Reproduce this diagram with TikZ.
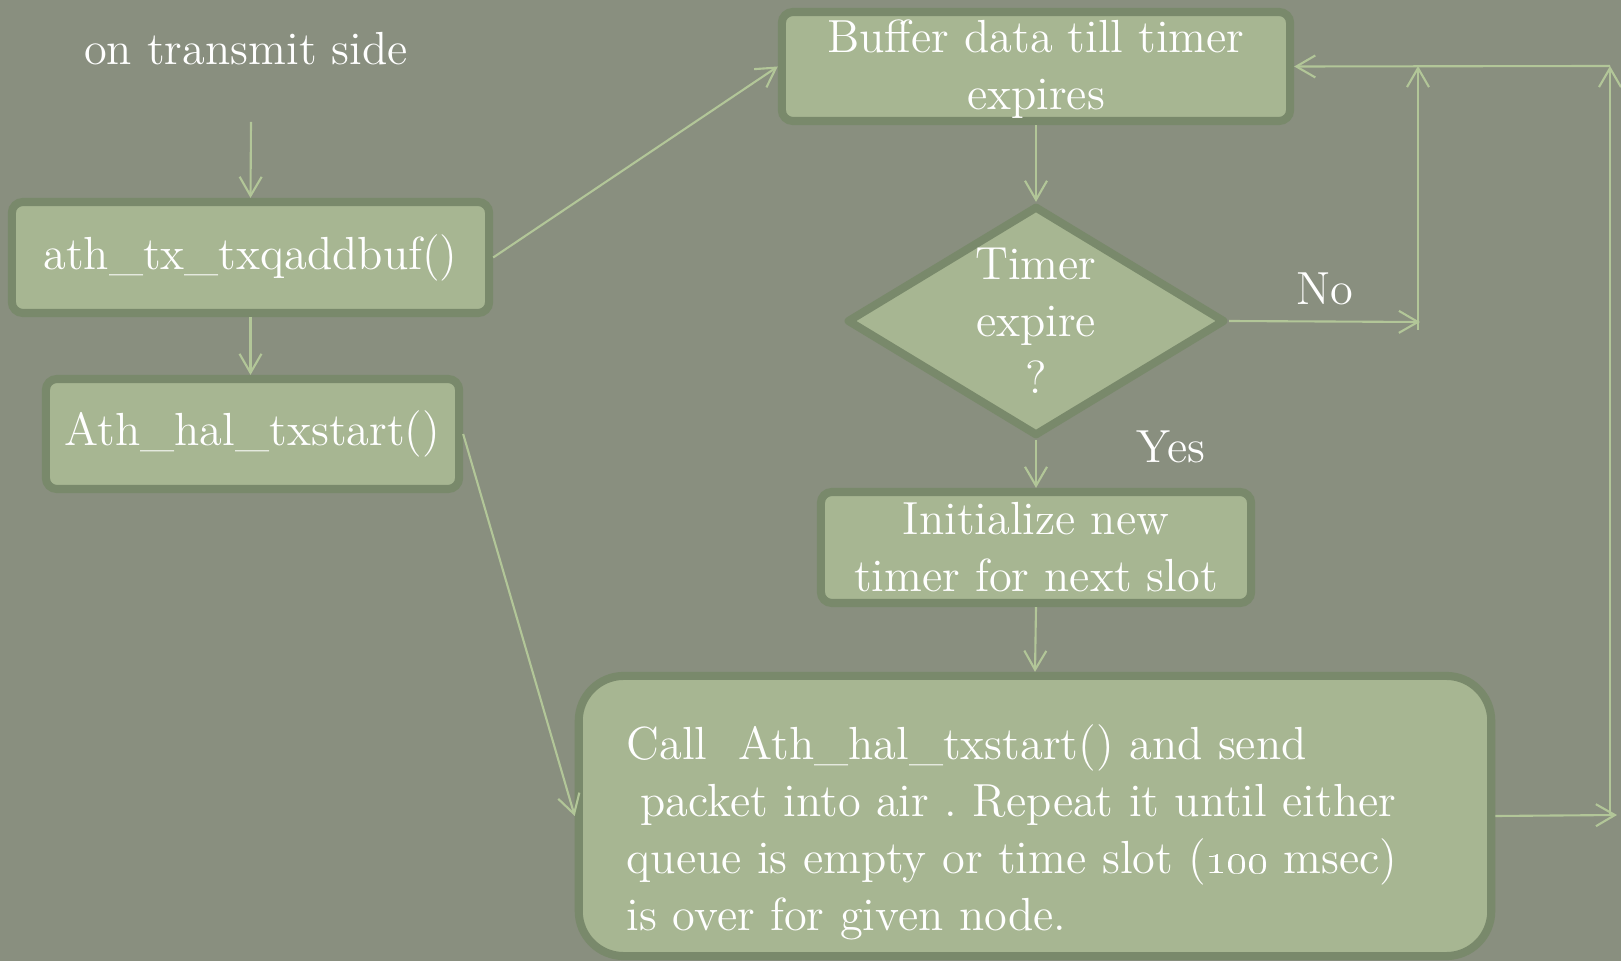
\documentclass[tikz,border=0pt]{standalone}
\usepackage{xcolor}
\usetikzlibrary{arrows.meta,shapes.geometric}
\definecolor{slate}{RGB}{137,143,127}
\definecolor{boxfill}{RGB}{167,182,146}
\definecolor{boxline}{RGB}{121,137,107}
\definecolor{flow}{RGB}{178,198,152}
\newcommand{\slidefont}{\fontsize{13.2}{16.2}\selectfont\frenchspacing}

\begin{document}
\begin{tikzpicture}[x=0.01cm, y=-0.01cm,
  stepbox/.style={draw=boxline, fill=boxfill, line width=2.3pt, rounded corners=0.11cm,
    text=white, font=\slidefont, align=center, inner sep=0pt},
  flowarrow/.style={draw=flow, line width=0.6pt, -{Straight Barb[length=0.19cm, width=0.22cm]}},
  plain/.style={text=white, font=\slidefont}]
\fill[slate] (0,0) rectangle (1621,961);
\useasboundingbox (0,0) rectangle (1621,961);

\node[plain] (side) at (246,49) {on transmit side};
\coordinate (sidearrow) at (251,122);
\node[stepbox, minimum width=4.77cm, minimum height=1.11cm] (addbuf) at (250.5,257.5) {ath\_tx\_txqaddbuf()};
\node[stepbox, minimum width=4.13cm, minimum height=1.10cm] (halstart) at (252.5,434) {Ath\_hal\_txstart()};

\node[stepbox, minimum width=5.08cm, minimum height=1.09cm] (buffer) at (1036,66.5) {\rule{0pt}{0.38cm}Buffer data till timer\\expires};
\node[stepbox, diamond, sharp corners, line join=round, aspect=1.64, inner sep=-10pt,
      minimum width=3.78cm, minimum height=2.30cm] (expire) at (1036,321) {Timer\\expire\\?};
\node[stepbox, minimum width=4.30cm, minimum height=1.11cm] (newtimer) at (1036,547.5) {Initialize new\\timer for next slot};
\node[stepbox, rounded corners=0.45cm, minimum width=9.12cm, minimum height=2.80cm,
      text width=8.16cm, align=left] (sendpkt) at (1035,816)
  {\rule{0pt}{0.67cm}Call\ \ Ath\_hal\_txstart() and send\\
   \hspace{0.3em}packet into air . Repeat it until either\\
   queue is empty or time slot (\oldstylenums{100} msec)\\
   is over for given node.};

\coordinate (noend) at (1420,322);
\coordinate (nobot) at (1418,330);
\coordinate (notop) at (1418,66);
\coordinate (backend) at (1617,815);
\coordinate (backbot) at (1610,815);
\coordinate (backtop) at (1610,66);

\draw[flowarrow] (sidearrow) -- (addbuf.north);
\draw[flowarrow] (addbuf.south) -- (addbuf.south |- halstart.north);
\draw[flowarrow] (addbuf.east) -- (buffer.west);
\draw[flowarrow] (halstart.east) -- (sendpkt.west);
\draw[flowarrow] (buffer.south) -- (expire.north);
\draw[flowarrow] (expire.east) -- (noend) node[midway, above=1pt, plain]{No};
\draw[flowarrow] (nobot) -- (notop);
\draw[flowarrow] (expire.south) -- (newtimer.north) node[midway, xshift=1.35cm, yshift=0.17cm, plain]{Yes};
\draw[flowarrow] (newtimer.south) -- (sendpkt.north);
\draw[flowarrow] (sendpkt.east) -- (backend);
\draw[flowarrow] (backbot) -- (backtop);
\draw[flowarrow] (backtop) -- (buffer.east);
\end{tikzpicture}
\end{document}
